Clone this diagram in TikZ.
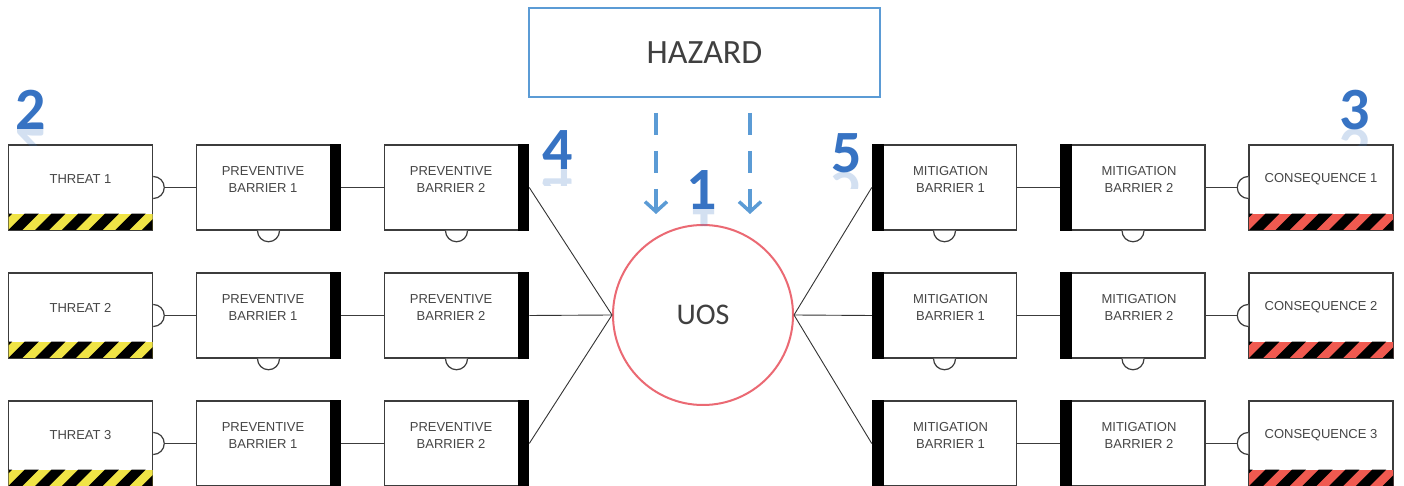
\documentclass[tikz,border=0pt]{standalone}
\usepackage{fontspec}
\setmainfont{Liberation Sans}
\newfontfamily\calfont{Carlito}
\usetikzlibrary{arrows.meta}

\definecolor{boxline}{RGB}{60,60,60}
\definecolor{boxtext}{RGB}{70,70,70}
\definecolor{hazblue}{RGB}{91,155,213}
\definecolor{numblue}{RGB}{55,115,195}
\definecolor{uosred}{RGB}{235,105,115}
\definecolor{stripeyellow}{RGB}{240,228,70}
\definecolor{stripered}{RGB}{240,90,80}
\definecolor{headtext}{RGB}{64,64,64}

\tikzset{
  frame/.style={draw=boxline, line width=1.5pt, fill=white, minimum width=144pt, minimum height=85pt, inner sep=0pt},
  boxlabel/.style={font=\fontsize{13}{17}\selectfont, text=boxtext, align=center, inner sep=0pt},
  link/.style={draw=boxline, line width=1.2pt},
  spoke/.style={draw=black!80, line width=0.9pt},
  knob/.style={draw=boxline, line width=1.2pt, fill=white},
  numref/.style={font=\calfont\bfseries\fontsize{60}{60}\selectfont, text=numblue, inner sep=0pt, anchor=base},
  hazarrow/.style={draw=hazblue, line width=4pt, dash pattern=on 22pt off 16pt, -{Straight Barb[length=10pt,width=22pt,line width=3.5pt]}},
}

\newcommand\stripeband[2]{%
  \begin{scope}
    \clip ([xshift=0.75pt,yshift=0.75pt]#1.south west) rectangle ([xshift=-0.75pt,yshift=17pt]#1.south east);
    \fill[#2] (#1.south west) rectangle ([yshift=17pt]#1.south east);
    \foreach \k in {-1,...,6}
      \fill[black] ([xshift=\k*26.7pt]#1.south west) -- ++(14,0) -- ++(17,17) -- ++(-14,0) -- cycle;
  \end{scope}}

\newcommand\numlabel[4]{%
  \node[numref] (#1) at (#2,#3) {#4};
  \begin{scope}
    \clip (#2-30,#3-16) rectangle (#2+30,#3);
    \node[numref, yscale=-1, opacity=0.22] at (#2,#3) {#4};
  \end{scope}}

\begin{document}
\begin{tikzpicture}[x=1pt,y=1pt]
\clip (0,0) rectangle (1404,486);
\fill[white] (0,0) rectangle (1404,486);

% hazard and top event
\node[draw=hazblue, line width=2pt, minimum width=351pt, minimum height=89pt, inner sep=0pt,
      font=\calfont\fontsize{34}{34}\selectfont, text=headtext] (haz) at (704.5,433.5) {HAZARD};
\node[circle, draw=uosred, line width=2pt, minimum size=180pt, inner sep=0pt,
      font=\calfont\fontsize{30}{30}\selectfont, text=headtext] (uos) at (703,171) {UOS};

\coordinate (ha1) at (656,373); \coordinate (he1) at (656,272);
\coordinate (ha2) at (750,373); \coordinate (he2) at (750,272);
\draw[hazarrow] (ha1) -- (he1);
\draw[hazarrow] (ha2) -- (he2);

\foreach \r/\y in {1/298.5,2/170.5,3/42.5}{
  \node[frame] (t\r) at (80.5,\y) {};
  \node[frame] (pa\r) at (268.5,\y) {};
  \node[frame] (pb\r) at (456.5,\y) {};
  \node[frame] (ma\r) at (944.5,\y) {};
  \node[frame] (mb\r) at (1133,\y) {};
  \node[frame] (c\r) at (1321,\y) {};
  \stripeband{t\r}{stripeyellow}
  \stripeband{c\r}{stripered}
  \fill[black] (pa\r.north east) rectangle ([xshift=-11pt]pa\r.south east);
  \fill[black] (pb\r.north east) rectangle ([xshift=-11pt]pb\r.south east);
  \fill[black] (ma\r.north west) rectangle ([xshift=12pt]ma\r.south west);
  \fill[black] (mb\r.north west) rectangle ([xshift=12pt]mb\r.south west);
  % knobs
  \draw[knob] ([yshift=11pt]t\r.east) arc[start angle=90, end angle=-90, radius=11pt];
  \coordinate (tk\r) at ([xshift=11pt]t\r.east);
  \draw[knob] ([yshift=11pt]c\r.west) arc[start angle=90, end angle=270, radius=11pt];
  \coordinate (ck\r) at ([xshift=-11pt]c\r.west);
  \draw[knob] ([xshift=-11pt]pa\r.south) arc[start angle=180, end angle=360, radius=11pt];
  \draw[knob] ([xshift=-11pt]pb\r.south) arc[start angle=180, end angle=360, radius=11pt];
  \draw[knob] ([xshift=-11pt]ma\r.south) arc[start angle=180, end angle=360, radius=11pt];
  \draw[knob] ([xshift=-11pt]mb\r.south) arc[start angle=180, end angle=360, radius=11pt];
  % links
  \draw[link] (tk\r) -- (pa\r.west);
  \draw[link] (pa\r.east) -- (pb\r.west);
  \draw[link] (ma\r.east) -- (mb\r.west);
  \draw[link] (mb\r.east) -- (ck\r);
  \draw[spoke] (pb\r.east) -- (uos.west);
  \draw[spoke] (uos.east) -- (ma\r.west);
  % labels
  \node[boxlabel] (tl\r) at ([yshift=8pt]t\r.center) {THREAT \r};
  \node[boxlabel] (pal\r) at ([xshift=-5.5pt,yshift=8pt]pa\r.center) {PREVENTIVE\\BARRIER 1};
  \node[boxlabel] (pbl\r) at ([xshift=-5.5pt,yshift=8pt]pb\r.center) {PREVENTIVE\\BARRIER 2};
  \node[boxlabel] (mal\r) at ([xshift=6pt,yshift=8pt]ma\r.center) {MITIGATION\\BARRIER 1};
  \node[boxlabel] (mbl\r) at ([xshift=6pt,yshift=8pt]mb\r.center) {MITIGATION\\BARRIER 2};
  \node[boxlabel] (cl\r) at ([yshift=8pt]c\r.center) {CONSEQUENCE \r};
}

% reference numbers
\numlabel{n1}{702}{276}{1}
\numlabel{n2}{31}{356}{2}
\numlabel{n3}{1355}{356}{3}
\numlabel{n4}{558}{316}{4}
\numlabel{n5}{847}{313}{5}
\end{tikzpicture}
\end{document}
